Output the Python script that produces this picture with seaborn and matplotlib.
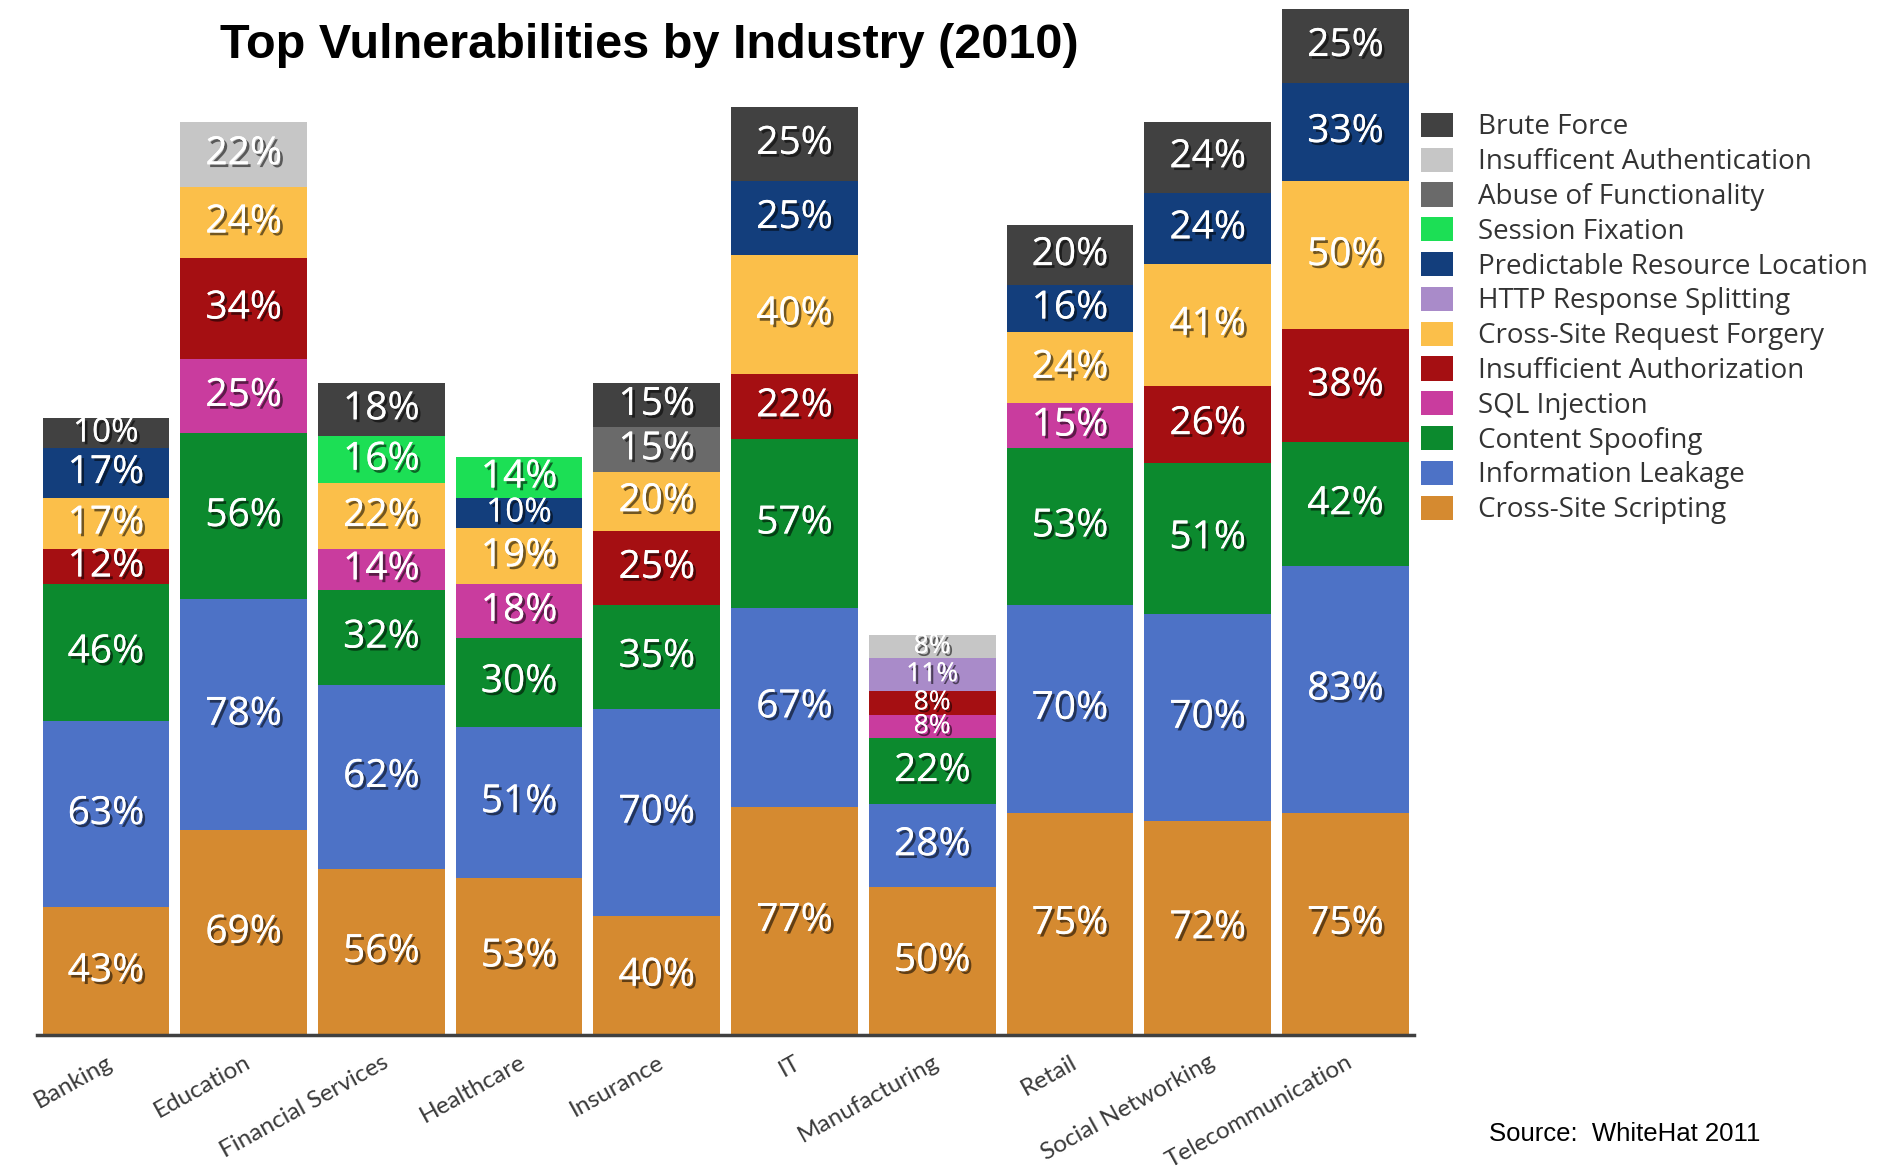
import numpy as np
import pandas as pd
import matplotlib
matplotlib.use("Agg")
import matplotlib.pyplot as plt
import matplotlib.patheffects as pe
from matplotlib.patches import Patch
import seaborn as sns

# industries on the x axis
industries = ["Banking", "Education", "Financial Services", "Healthcare", "Insurance", "IT",
              "Manufacturing", "Retail", "Social Networking", "Telecommunication"]

# share of sites with each vulnerability (%), stacked bottom -> top
xss = [43, 69, 56, 53, 40, 77, 50, 75, 72, 75]
info_leak = [63, 78, 62, 51, 70, 67, 28, 70, 70, 83]
content_spoof = [46, 56, 32, 30, 35, 57, 22, 53, 51, 42]
sql_inj = [0, 25, 14, 18, 0, 0, 8, 15, 0, 0]
insuff_authz = [12, 34, 0, 0, 25, 22, 8, 0, 26, 38]
csrf = [17, 24, 22, 19, 20, 40, 0, 24, 41, 50]
http_split = [0, 0, 0, 0, 0, 0, 11, 0, 0, 0]
pred_res = [17, 0, 0, 10, 0, 25, 0, 16, 24, 33]
session_fix = [0, 0, 16, 14, 0, 0, 0, 0, 0, 0]
abuse_func = [0, 0, 0, 0, 15, 0, 0, 0, 0, 0]
insuff_authn = [0, 22, 0, 0, 0, 0, 8, 0, 0, 0]
brute_force = [10, 0, 18, 0, 15, 25, 0, 20, 24, 25]

vuln_names = ["Cross-Site Scripting", "Information Leakage", "Content Spoofing", "SQL Injection",
              "Insufficient Authorization", "Cross-Site Request Forgery", "HTTP Response Splitting",
              "Predictable Resource Location", "Session Fixation", "Abuse of Functionality",
              "Insufficent Authentication", "Brute Force"]
vuln_values = [xss, info_leak, content_spoof, sql_inj, insuff_authz, csrf, http_split,
               pred_res, session_fix, abuse_func, insuff_authn, brute_force]
vuln_colors = ["#D58A30", "#4D72C6", "#0C8A2E", "#C93C9E", "#A50F12", "#FBBF4A", "#A98BC9",
               "#133E7C", "#1CDF55", "#6A6A6A", "#C6C6C6", "#414141"]

sns.set_style("white")
plt.rcParams["font.family"] = ["Open Sans", "DejaVu Sans"]

fig = plt.figure(figsize=(18.97, 11.74), dpi=100)
ax = fig.add_axes([0.0195, 0.1184, 0.726, 0.879])

bottom = np.zeros(len(industries))
shadow = [pe.withSimplePatchShadow(offset=(2, -2), shadow_rgbFace="black", alpha=0.55), pe.Normal()]
for name, vals, col in zip(vuln_names, vuln_values, vuln_colors):
    df = pd.DataFrame({"industry": industries, "pct": vals})
    sns.barplot(data=df, x="industry", y="pct", color=col, width=0.92, bottom=bottom,
                saturation=1, ax=ax, linewidth=0)
    for i, v in enumerate(vals):
        if v > 0:
            # thin segments get a smaller label so they don't pile up
            fs = 28 if v >= 12 else (24 if v == 10 else 19)
            ax.text(i, bottom[i] + v / 2, f"{v}%", ha="center", va="center", color="white",
                    fontsize=fs, path_effects=shadow)
    bottom += np.array(vals)

ax.set_xlim(-0.5, len(industries) - 0.5)
ax.set_ylim(0, 348)
ax.set_xlabel("")
ax.set_ylabel("")
ax.set_yticks([])
for s in ["left", "right", "top"]:
    ax.spines[s].set_visible(False)
ax.spines["bottom"].set_color("#404040")
ax.spines["bottom"].set_linewidth(2.5)
ax.tick_params(axis="x", length=0, pad=12)
ax.set_xticks(range(len(industries)))
ax.set_xticklabels(industries, rotation=29, ha="right", rotation_mode="anchor",
                   fontsize=17.5, color="#3a3a3a", family=["Lato", "DejaVu Sans"])

handles = [Patch(facecolor=c, edgecolor="none", label=n)
           for n, c in zip(vuln_names[::-1], vuln_colors[::-1])]
fig.legend(handles=handles, loc="upper left", bbox_to_anchor=(0.749, 0.904),
           frameon=False, fontsize=20, handlelength=1.15, handleheight=0.97,
           handletextpad=0.9, labelspacing=0.22, borderpad=0, borderaxespad=0,
           labelcolor="#333333")

fig.text(0.3425, 0.961, "Top Vulnerabilities by Industry (2010)", ha="center", va="center",
         fontsize=35, fontweight="bold", color="black", family=["Liberation Sans", "DejaVu Sans"])
fig.text(0.785, 0.034, "Source:  WhiteHat 2011", ha="left", va="center",
         fontsize=18.5, color="black", family=["Liberation Sans", "DejaVu Sans"])

fig.savefig("out.png", dpi=100)
